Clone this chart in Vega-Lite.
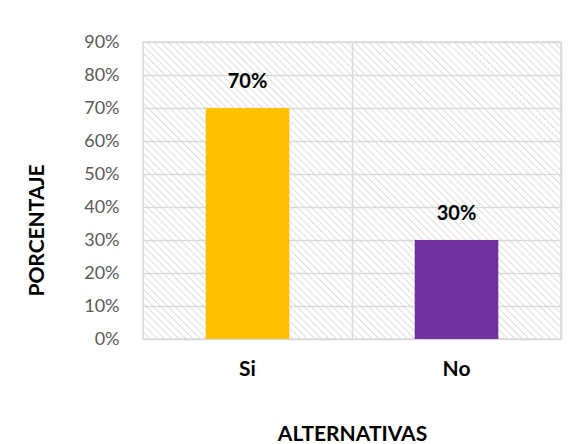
{
  "$schema": "https://vega.github.io/schema/vega-lite/v6.json",
  "width": 418,
  "height": 297,
  "autosize": {"type": "none"},
  "padding": {"left": 143, "top": 42, "right": 21, "bottom": 105},
  "background": "#ffffff",
  "config": {
    "font": "Lato",
    "view": {
      "stroke": "#d9d9d9",
      "strokeWidth": 1.5,
      "fill": {
        "gradient": "linear",
        "x1": 0, "y1": 1, "x2": 1.1367, "y2": 0.1924,
        "stops": [
{"offset":0,"color":"#dddddd"},{"offset":0.0025,"color":"#fff"},{"offset":0.0085,"color":"#fff"},
{"offset":0.01,"color":"#dddddd"},{"offset":0.0125,"color":"#fff"},{"offset":0.0185,"color":"#fff"},
{"offset":0.02,"color":"#dddddd"},{"offset":0.0225,"color":"#fff"},{"offset":0.0285,"color":"#fff"},
{"offset":0.03,"color":"#dddddd"},{"offset":0.0325,"color":"#fff"},{"offset":0.0385,"color":"#fff"},
{"offset":0.04,"color":"#dddddd"},{"offset":0.0425,"color":"#fff"},{"offset":0.0485,"color":"#fff"},
{"offset":0.05,"color":"#dddddd"},{"offset":0.0525,"color":"#fff"},{"offset":0.0585,"color":"#fff"},
{"offset":0.06,"color":"#dddddd"},{"offset":0.0625,"color":"#fff"},{"offset":0.0685,"color":"#fff"},
{"offset":0.07,"color":"#dddddd"},{"offset":0.0725,"color":"#fff"},{"offset":0.0785,"color":"#fff"},
{"offset":0.08,"color":"#dddddd"},{"offset":0.0825,"color":"#fff"},{"offset":0.0885,"color":"#fff"},
{"offset":0.09,"color":"#dddddd"},{"offset":0.0925,"color":"#fff"},{"offset":0.0985,"color":"#fff"},
{"offset":0.10,"color":"#dddddd"},{"offset":0.1025,"color":"#fff"},{"offset":0.1085,"color":"#fff"},
{"offset":0.11,"color":"#dddddd"},{"offset":0.1125,"color":"#fff"},{"offset":0.1185,"color":"#fff"},
{"offset":0.12,"color":"#dddddd"},{"offset":0.1225,"color":"#fff"},{"offset":0.1285,"color":"#fff"},
{"offset":0.13,"color":"#dddddd"},{"offset":0.1325,"color":"#fff"},{"offset":0.1385,"color":"#fff"},
{"offset":0.14,"color":"#dddddd"},{"offset":0.1425,"color":"#fff"},{"offset":0.1485,"color":"#fff"},
{"offset":0.15,"color":"#dddddd"},{"offset":0.1525,"color":"#fff"},{"offset":0.1585,"color":"#fff"},
{"offset":0.16,"color":"#dddddd"},{"offset":0.1625,"color":"#fff"},{"offset":0.1685,"color":"#fff"},
{"offset":0.17,"color":"#dddddd"},{"offset":0.1725,"color":"#fff"},{"offset":0.1785,"color":"#fff"},
{"offset":0.18,"color":"#dddddd"},{"offset":0.1825,"color":"#fff"},{"offset":0.1885,"color":"#fff"},
{"offset":0.19,"color":"#dddddd"},{"offset":0.1925,"color":"#fff"},{"offset":0.1985,"color":"#fff"},
{"offset":0.20,"color":"#dddddd"},{"offset":0.2025,"color":"#fff"},{"offset":0.2085,"color":"#fff"},
{"offset":0.21,"color":"#dddddd"},{"offset":0.2125,"color":"#fff"},{"offset":0.2185,"color":"#fff"},
{"offset":0.22,"color":"#dddddd"},{"offset":0.2225,"color":"#fff"},{"offset":0.2285,"color":"#fff"},
{"offset":0.23,"color":"#dddddd"},{"offset":0.2325,"color":"#fff"},{"offset":0.2385,"color":"#fff"},
{"offset":0.24,"color":"#dddddd"},{"offset":0.2425,"color":"#fff"},{"offset":0.2485,"color":"#fff"},
{"offset":0.25,"color":"#dddddd"},{"offset":0.2525,"color":"#fff"},{"offset":0.2585,"color":"#fff"},
{"offset":0.26,"color":"#dddddd"},{"offset":0.2625,"color":"#fff"},{"offset":0.2685,"color":"#fff"},
{"offset":0.27,"color":"#dddddd"},{"offset":0.2725,"color":"#fff"},{"offset":0.2785,"color":"#fff"},
{"offset":0.28,"color":"#dddddd"},{"offset":0.2825,"color":"#fff"},{"offset":0.2885,"color":"#fff"},
{"offset":0.29,"color":"#dddddd"},{"offset":0.2925,"color":"#fff"},{"offset":0.2985,"color":"#fff"},
{"offset":0.30,"color":"#dddddd"},{"offset":0.3025,"color":"#fff"},{"offset":0.3085,"color":"#fff"},
{"offset":0.31,"color":"#dddddd"},{"offset":0.3125,"color":"#fff"},{"offset":0.3185,"color":"#fff"},
{"offset":0.32,"color":"#dddddd"},{"offset":0.3225,"color":"#fff"},{"offset":0.3285,"color":"#fff"},
{"offset":0.33,"color":"#dddddd"},{"offset":0.3325,"color":"#fff"},{"offset":0.3385,"color":"#fff"},
{"offset":0.34,"color":"#dddddd"},{"offset":0.3425,"color":"#fff"},{"offset":0.3485,"color":"#fff"},
{"offset":0.35,"color":"#dddddd"},{"offset":0.3525,"color":"#fff"},{"offset":0.3585,"color":"#fff"},
{"offset":0.36,"color":"#dddddd"},{"offset":0.3625,"color":"#fff"},{"offset":0.3685,"color":"#fff"},
{"offset":0.37,"color":"#dddddd"},{"offset":0.3725,"color":"#fff"},{"offset":0.3785,"color":"#fff"},
{"offset":0.38,"color":"#dddddd"},{"offset":0.3825,"color":"#fff"},{"offset":0.3885,"color":"#fff"},
{"offset":0.39,"color":"#dddddd"},{"offset":0.3925,"color":"#fff"},{"offset":0.3985,"color":"#fff"},
{"offset":0.40,"color":"#dddddd"},{"offset":0.4025,"color":"#fff"},{"offset":0.4085,"color":"#fff"},
{"offset":0.41,"color":"#dddddd"},{"offset":0.4125,"color":"#fff"},{"offset":0.4185,"color":"#fff"},
{"offset":0.42,"color":"#dddddd"},{"offset":0.4225,"color":"#fff"},{"offset":0.4285,"color":"#fff"},
{"offset":0.43,"color":"#dddddd"},{"offset":0.4325,"color":"#fff"},{"offset":0.4385,"color":"#fff"},
{"offset":0.44,"color":"#dddddd"},{"offset":0.4425,"color":"#fff"},{"offset":0.4485,"color":"#fff"},
{"offset":0.45,"color":"#dddddd"},{"offset":0.4525,"color":"#fff"},{"offset":0.4585,"color":"#fff"},
{"offset":0.46,"color":"#dddddd"},{"offset":0.4625,"color":"#fff"},{"offset":0.4685,"color":"#fff"},
{"offset":0.47,"color":"#dddddd"},{"offset":0.4725,"color":"#fff"},{"offset":0.4785,"color":"#fff"},
{"offset":0.48,"color":"#dddddd"},{"offset":0.4825,"color":"#fff"},{"offset":0.4885,"color":"#fff"},
{"offset":0.49,"color":"#dddddd"},{"offset":0.4925,"color":"#fff"},{"offset":0.4985,"color":"#fff"},
{"offset":0.50,"color":"#dddddd"},{"offset":0.5025,"color":"#fff"},{"offset":0.5085,"color":"#fff"},
{"offset":0.51,"color":"#dddddd"},{"offset":0.5125,"color":"#fff"},{"offset":0.5185,"color":"#fff"},
{"offset":0.52,"color":"#dddddd"},{"offset":0.5225,"color":"#fff"},{"offset":0.5285,"color":"#fff"},
{"offset":0.53,"color":"#dddddd"},{"offset":0.5325,"color":"#fff"},{"offset":0.5385,"color":"#fff"},
{"offset":0.54,"color":"#dddddd"},{"offset":0.5425,"color":"#fff"},{"offset":0.5485,"color":"#fff"},
{"offset":0.55,"color":"#dddddd"},{"offset":0.5525,"color":"#fff"},{"offset":0.5585,"color":"#fff"},
{"offset":0.56,"color":"#dddddd"},{"offset":0.5625,"color":"#fff"},{"offset":0.5685,"color":"#fff"},
{"offset":0.57,"color":"#dddddd"},{"offset":0.5725,"color":"#fff"},{"offset":0.5785,"color":"#fff"},
{"offset":0.58,"color":"#dddddd"},{"offset":0.5825,"color":"#fff"},{"offset":0.5885,"color":"#fff"},
{"offset":0.59,"color":"#dddddd"},{"offset":0.5925,"color":"#fff"},{"offset":0.5985,"color":"#fff"},
{"offset":0.60,"color":"#dddddd"},{"offset":0.6025,"color":"#fff"},{"offset":0.6085,"color":"#fff"},
{"offset":0.61,"color":"#dddddd"},{"offset":0.6125,"color":"#fff"},{"offset":0.6185,"color":"#fff"},
{"offset":0.62,"color":"#dddddd"},{"offset":0.6225,"color":"#fff"},{"offset":0.6285,"color":"#fff"},
{"offset":0.63,"color":"#dddddd"},{"offset":0.6325,"color":"#fff"},{"offset":0.6385,"color":"#fff"},
{"offset":0.64,"color":"#dddddd"},{"offset":0.6425,"color":"#fff"},{"offset":0.6485,"color":"#fff"},
{"offset":0.65,"color":"#dddddd"},{"offset":0.6525,"color":"#fff"},{"offset":0.6585,"color":"#fff"},
{"offset":0.66,"color":"#dddddd"},{"offset":0.6625,"color":"#fff"},{"offset":0.6685,"color":"#fff"},
{"offset":0.67,"color":"#dddddd"},{"offset":0.6725,"color":"#fff"},{"offset":0.6785,"color":"#fff"},
{"offset":0.68,"color":"#dddddd"},{"offset":0.6825,"color":"#fff"},{"offset":0.6885,"color":"#fff"},
{"offset":0.69,"color":"#dddddd"},{"offset":0.6925,"color":"#fff"},{"offset":0.6985,"color":"#fff"},
{"offset":0.70,"color":"#dddddd"},{"offset":0.7025,"color":"#fff"},{"offset":0.7085,"color":"#fff"},
{"offset":0.71,"color":"#dddddd"},{"offset":0.7125,"color":"#fff"},{"offset":0.7185,"color":"#fff"},
{"offset":0.72,"color":"#dddddd"},{"offset":0.7225,"color":"#fff"},{"offset":0.7285,"color":"#fff"},
{"offset":0.73,"color":"#dddddd"},{"offset":0.7325,"color":"#fff"},{"offset":0.7385,"color":"#fff"},
{"offset":0.74,"color":"#dddddd"},{"offset":0.7425,"color":"#fff"},{"offset":0.7485,"color":"#fff"},
{"offset":0.75,"color":"#dddddd"},{"offset":0.7525,"color":"#fff"},{"offset":0.7585,"color":"#fff"},
{"offset":0.76,"color":"#dddddd"},{"offset":0.7625,"color":"#fff"},{"offset":0.7685,"color":"#fff"},
{"offset":0.77,"color":"#dddddd"},{"offset":0.7725,"color":"#fff"},{"offset":0.7785,"color":"#fff"},
{"offset":0.78,"color":"#dddddd"},{"offset":0.7825,"color":"#fff"},{"offset":0.7885,"color":"#fff"},
{"offset":0.79,"color":"#dddddd"},{"offset":0.7925,"color":"#fff"},{"offset":0.7985,"color":"#fff"},
{"offset":0.80,"color":"#dddddd"},{"offset":0.8025,"color":"#fff"},{"offset":0.8085,"color":"#fff"},
{"offset":0.81,"color":"#dddddd"},{"offset":0.8125,"color":"#fff"},{"offset":0.8185,"color":"#fff"},
{"offset":0.82,"color":"#dddddd"},{"offset":0.8225,"color":"#fff"},{"offset":0.8285,"color":"#fff"},
{"offset":0.83,"color":"#dddddd"},{"offset":0.8325,"color":"#fff"},{"offset":0.8385,"color":"#fff"},
{"offset":0.84,"color":"#dddddd"},{"offset":0.8425,"color":"#fff"},{"offset":0.8485,"color":"#fff"},
{"offset":0.85,"color":"#dddddd"},{"offset":0.8525,"color":"#fff"},{"offset":0.8585,"color":"#fff"},
{"offset":0.86,"color":"#dddddd"},{"offset":0.8625,"color":"#fff"},{"offset":0.8685,"color":"#fff"},
{"offset":0.87,"color":"#dddddd"},{"offset":0.8725,"color":"#fff"},{"offset":0.8785,"color":"#fff"},
{"offset":0.88,"color":"#dddddd"},{"offset":0.8825,"color":"#fff"},{"offset":0.8885,"color":"#fff"},
{"offset":0.89,"color":"#dddddd"},{"offset":0.8925,"color":"#fff"},{"offset":0.8985,"color":"#fff"},
{"offset":0.90,"color":"#dddddd"},{"offset":0.9025,"color":"#fff"},{"offset":0.9085,"color":"#fff"},
{"offset":0.91,"color":"#dddddd"},{"offset":0.9125,"color":"#fff"},{"offset":0.9185,"color":"#fff"},
{"offset":0.92,"color":"#dddddd"},{"offset":0.9225,"color":"#fff"},{"offset":0.9285,"color":"#fff"},
{"offset":0.93,"color":"#dddddd"},{"offset":0.9325,"color":"#fff"},{"offset":0.9385,"color":"#fff"},
{"offset":0.94,"color":"#dddddd"},{"offset":0.9425,"color":"#fff"},{"offset":0.9485,"color":"#fff"},
{"offset":0.95,"color":"#dddddd"},{"offset":0.9525,"color":"#fff"},{"offset":0.9585,"color":"#fff"},
{"offset":0.96,"color":"#dddddd"},{"offset":0.9625,"color":"#fff"},{"offset":0.9685,"color":"#fff"},
{"offset":0.97,"color":"#dddddd"},{"offset":0.9725,"color":"#fff"},{"offset":0.9785,"color":"#fff"},
{"offset":0.98,"color":"#dddddd"},{"offset":0.9825,"color":"#fff"},{"offset":0.9885,"color":"#fff"},
{"offset":0.99,"color":"#dddddd"},{"offset":0.9925,"color":"#fff"},{"offset":0.9985,"color":"#fff"},
{"offset":1,"color":"#dddddd"}
        ]
      }
    }
  },
  "data": {
    "values": [
      {"alternativa": "Si", "porcentaje": 0.7},
      {"alternativa": "No", "porcentaje": 0.3}
    ]
  },
  "encoding": {
    "y": {
      "field": "porcentaje",
      "type": "quantitative",
      "scale": {"domain": [0, 0.9]},
      "axis": {
        "title": "PORCENTAJE",
        "format": ".0%",
        "values": [0, 0.1, 0.2, 0.3, 0.4, 0.5, 0.6, 0.7, 0.8, 0.9],
        "domain": false,
        "ticks": false,
        "grid": true,
        "gridColor": "#d9d9d9",
        "gridWidth": 1.5,
        "labelFont": "Lato",
        "labelFontSize": 18,
        "labelColor": "#595959",
        "labelPadding": 24,
        "titleFont": "Lato",
        "titleFontSize": 21,
        "titleFontWeight": "bold",
        "titleColor": "#000000",
        "titleAngle": -90,
        "titleX": -106,
        "titleY": 188,
        "titleAlign": "center",
        "titleBaseline": "middle"
      }
    }
  },
  "layer": [
    {
      "mark": {"type": "bar"},
      "encoding": {
        "x": {
          "field": "alternativa",
          "type": "nominal",
          "sort": ["Si", "No"],
          "scale": {"paddingInner": 0.6, "paddingOuter": 0.3},
          "axis": {
            "title": "ALTERNATIVAS",
            "labelAngle": 0,
            "domain": false,
            "ticks": false,
            "grid": false,
            "labelFont": "Lato",
            "labelFontSize": 21,
            "labelFontWeight": "bold",
            "labelColor": "#000000",
            "labelPadding": 19,
            "titleFont": "Lato",
            "titleFontSize": 21,
            "titleFontWeight": "bold",
            "titleColor": "#000000",
            "titleY": 95,
            "titleBaseline": "middle"
          }
        },
        "color": {
          "field": "alternativa",
          "type": "nominal",
          "scale": {"domain": ["Si", "No"], "range": ["#FFC000", "#7030A0"]},
          "legend": null
        }
      }
    },
    {
      "mark": {
        "type": "text",
        "baseline": "alphabetic",
        "dy": -20,
        "font": "Lato",
        "fontSize": 20,
        "fontWeight": "bold",
        "color": "#000000"
      },
      "encoding": {
        "x": {
          "field": "alternativa",
          "type": "nominal",
          "sort": ["Si", "No"],
          "scale": {"paddingInner": 0.6, "paddingOuter": 0.3},
          "axis": {
            "title": null,
            "labels": false,
            "domain": false,
            "ticks": false,
            "grid": true,
            "gridColor": "#d9d9d9",
            "gridWidth": 1.5,
            "bandPosition": 1.75
          }
        },
        "text": {"field": "porcentaje", "type": "quantitative", "format": ".0%"}
      }
    }
  ],
  "resolve": {"axis": {"x": "independent"}}
}
